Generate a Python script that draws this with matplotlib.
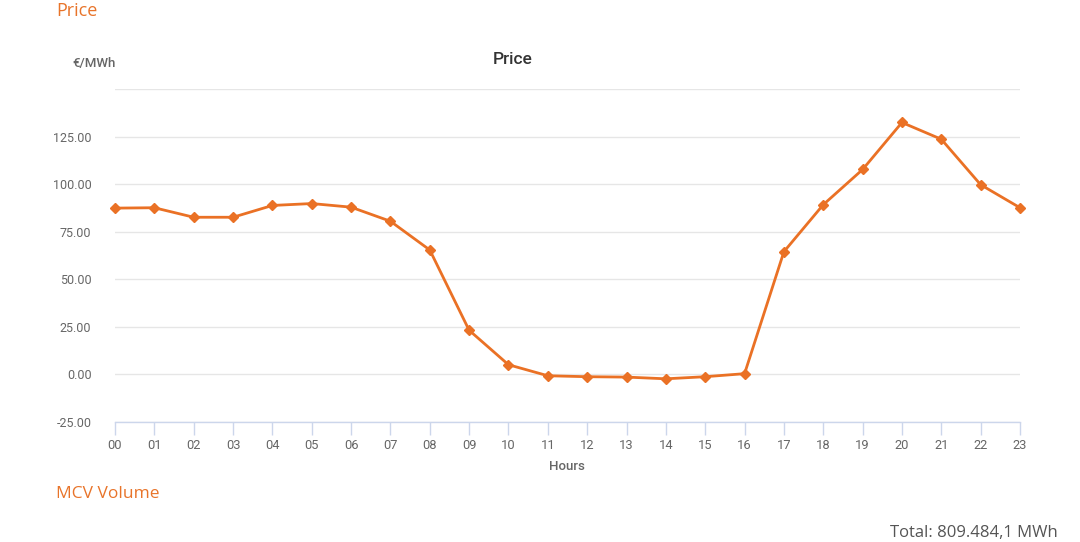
import matplotlib
matplotlib.use("Agg")
import matplotlib.pyplot as plt

hours = ["00","01","02","03","04","05","06","07","08","09","10","11",
         "12","13","14","15","16","17","18","19","20","21","22","23"]
price = [87.4, 87.6, 82.6, 82.6, 88.8, 89.8, 87.9, 80.5, 65.4, 23.2, 5.1, -0.7,
         -1.2, -1.4, -2.3, -1.2, 0.4, 64.5, 89.2, 107.7, 132.4, 123.6, 99.7, 87.6]
y_ticks = [-25, 0, 25, 50, 75, 100, 125, 150]
y_tick_labels = ["-25.00", "0.00", "25.00", "50.00", "75.00", "100.00", "125.00", ""]

plt.rcParams['font.family'] = ['Roboto', 'DejaVu Sans']

fig = plt.figure(figsize=(10.8, 5.42), dpi=100)
ax = fig.add_axes([115/1080, 1-422/542, (1020-115)/1080, (422-89)/542])

x = list(range(len(hours)))
ax.plot(x, price, color="#ea7125", lw=2, marker="D", markersize=5, zorder=3, clip_on=False)

ax.set_xlim(0, len(hours)-1)
ax.set_ylim(-25, 150)
ax.set_yticks(y_ticks)
ax.set_yticklabels(y_tick_labels)
ax.set_xticks(x)
ax.set_xticklabels(hours)

for s in ["top", "right", "left"]:
    ax.spines[s].set_visible(False)
ax.spines["bottom"].set_color("#ccd6eb")
ax.spines["bottom"].set_linewidth(1)

ax.grid(axis="y", color="#e6e6e6", lw=1)
ax.set_axisbelow(True)
ax.tick_params(axis="y", length=0, pad=17, labelsize=9, labelcolor="#666666")
ax.tick_params(axis="x", length=9, width=1, color="#ccd6eb", pad=3, labelsize=9.3, labelcolor="#666666")

ax.set_xlabel("Hours", fontsize=9.5, color="#666666", fontweight="medium")
ax.xaxis.set_label_coords((567-115)/905, -(460-422)/333)

fig.text(513/1080, 1-59/542, "Price", ha="center", va="center", fontsize=12.5, color="#333333", fontweight="medium")
fig.text(94/1080, 1-63/542, "€/MWh", ha="center", va="center", fontsize=9.5, color="#666666", fontweight="medium")

fig.text(56/1080, 1-11/542, "Price", ha="left", va="center", fontsize=13, color="#e8742a", family=["Open Sans", "DejaVu Sans"])
fig.text(56/1080, 1-494/542, "MCV Volume", ha="left", va="center", fontsize=12.5, color="#e8742a", family=["Open Sans", "DejaVu Sans"])
fig.text(1058/1080, 1-541/542, "Total: 809.484,1 MWh", ha="right", va="bottom", fontsize=12, color="#555555", family=["Open Sans", "DejaVu Sans"])

fig.savefig("out.png", dpi=100)
